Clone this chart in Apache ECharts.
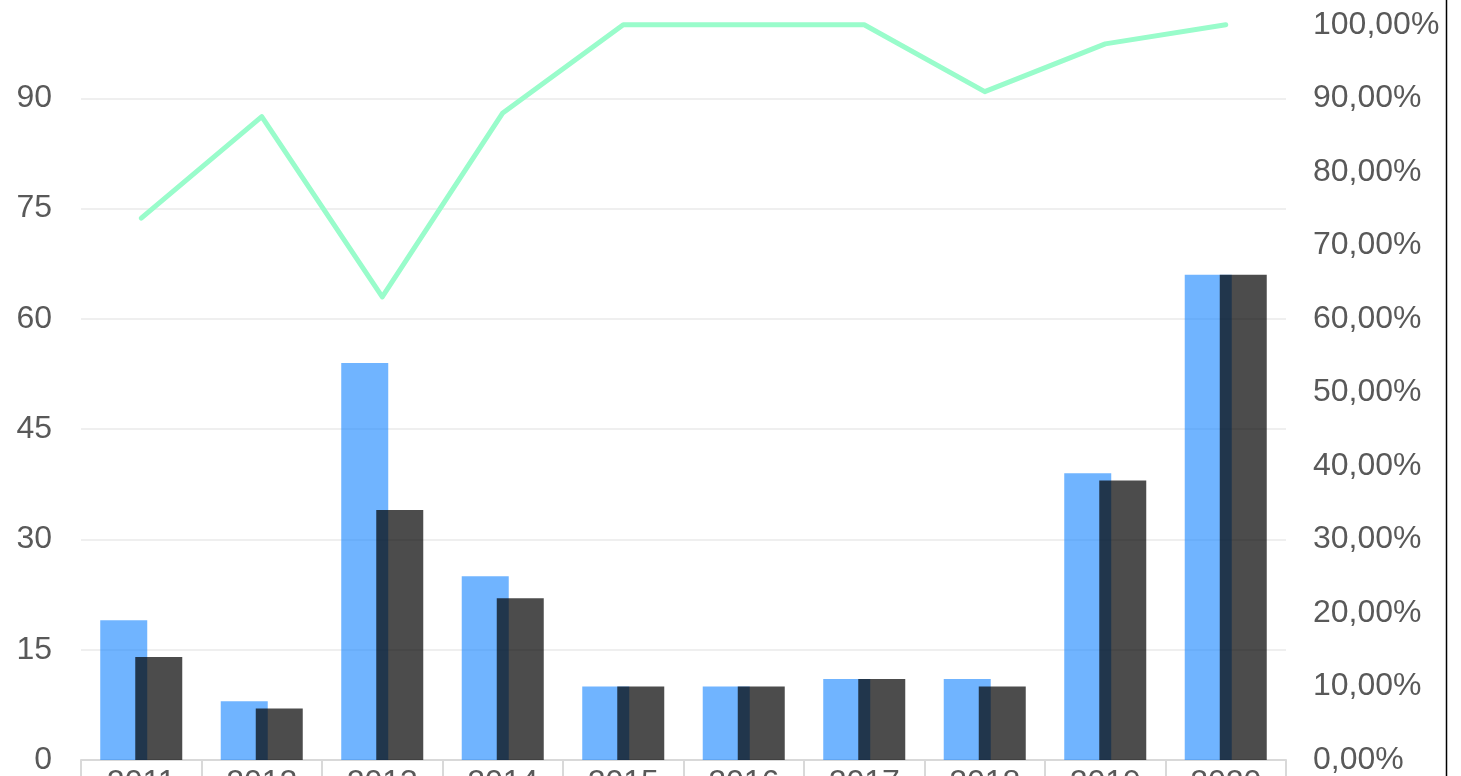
<!DOCTYPE html>
<html>
<head>
<meta charset="utf-8">
<script src="https://cdn.jsdelivr.net/npm/echarts@6/dist/echarts.min.js"></script>
<style>
html,body{margin:0;padding:0;background:#fff;}
#c{width:1461px;height:776px;}
</style>
</head>
<body>
<div id="c"></div>
<script>
var categories = ['2011','2012','2013','2014','2015','2016','2017','2018','2019','2020'];
var seriesTotal = [19, 8, 54, 25, 10, 10, 11, 11, 39, 66];
var seriesDone = [14, 7, 34, 22, 10, 10, 11, 10, 38, 66];
var seriesRate = [73.7, 87.5, 63.0, 88.0, 100, 100, 100, 90.9, 97.4, 100];
var leftTicks = [0, 15, 30, 45, 60, 75, 90];
var rightTicks = [0, 10, 20, 30, 40, 50, 60, 70, 80, 90, 100];

var chart = echarts.init(document.getElementById('c'));
var font = 'Liberation Sans, Arial, sans-serif';
chart.setOption({
  animation: false,
  backgroundColor: '#ffffff',
  grid: {left: 81, right: 175, top: -12, bottom: 16, containLabel: false, outerBoundsMode: 'none'},
  xAxis: {
    type: 'category',
    data: categories,
    boundaryGap: true,
    axisLine: {show: true, lineStyle: {color: '#d9d9d9', width: 2}},
    axisTick: {show: true, length: 24, lineStyle: {color: '#d9d9d9', width: 2}},
    axisLabel: {color: '#595959', fontSize: 32, fontFamily: font, margin: 7}
  },
  yAxis: [{
    type: 'value', min: 0, max: 105, interval: 15,
    axisLine: {show: false}, axisTick: {show: false},
    splitLine: {show: true, lineStyle: {color: '#efefef', width: 2}},
    axisLabel: {
      color: '#595959', fontSize: 32, fontFamily: font, margin: 29,
      formatter: function (v) { return leftTicks.indexOf(v) >= 0 ? String(v) : ''; }
    }
  }, {
    type: 'value', min: 0, max: 105, interval: 10,
    axisLine: {show: false}, axisTick: {show: false},
    splitLine: {show: false},
    axisLabel: {
      color: '#595959', fontSize: 32, fontFamily: font, margin: 27,
      formatter: function (v) { return rightTicks.indexOf(v) >= 0 ? v.toFixed(2).replace('.', ',') + '%' : ''; }
    }
  }],
  graphic: [{
    type: 'line', z: 100,
    shape: {x1: 1446.5, y1: 0, x2: 1446.5, y2: 776},
    style: {stroke: '#000000', lineWidth: 1.5}
  }],
  series: [{
    name: 'Total', type: 'bar', data: seriesTotal, yAxisIndex: 0,
    barWidth: 47, barGap: '-25.5%',
    itemStyle: {color: 'rgba(28,136,255,0.63)'}
  }, {
    name: 'Concluídos', type: 'bar', data: seriesDone, yAxisIndex: 0,
    barWidth: 47,
    itemStyle: {color: 'rgba(0,0,0,0.7)'}
  }, {
    name: 'Taxa', type: 'line', data: seriesRate, yAxisIndex: 1,
    symbol: 'none', z: 5,
    lineStyle: {color: '#99fccb', width: 5, cap: 'round', join: 'round'}
  }]
});
</script>
</body>
</html>
